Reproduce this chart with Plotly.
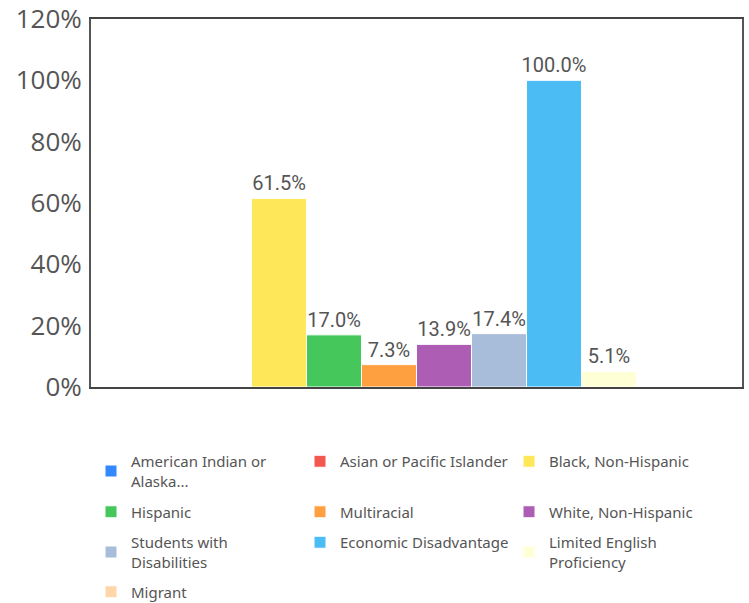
import plotly.graph_objects as go

groups = ["American Indian or<br>Alaska...", "Asian or Pacific Islander", "Black, Non-Hispanic",
          "Hispanic", "Multiracial", "White, Non-Hispanic",
          "Students with<br>Disabilities", "Economic Disadvantage", "Limited English<br>Proficiency",
          "Migrant"]
values = [0.0, 0.0, 61.5, 17.0, 7.3, 13.9, 17.4, 100.0, 5.1, 0.0]
colors = ["#3387FF", "#F2584D", "#FFE75A", "#46C75C", "#FFA040", "#AD5EB4",
          "#A7BDD9", "#4BBCF4", "#FFFFD6", "#FFD6AA"]
legend_rows = ["legend", "legend", "legend", "legend2", "legend2", "legend2",
               "legend3", "legend3", "legend3", "legend4"]
yticks = [0, 20, 40, 60, 80, 100, 120]
ytick_labels = [f"{t}%" for t in yticks]

fig = go.Figure()
for name, v, c, lg in zip(groups, values, colors, legend_rows):
    fig.add_trace(go.Bar(
        x=[""], y=[v], name=name, marker=dict(color=c, line=dict(color="white", width=1)),
        text=[f"{v:.1f}%" if v > 0 else ""], textposition="outside", constraintext="none",
        textfont=dict(family="Roboto", size=20, color="#555555"),
        cliponaxis=False, legend=lg, hoverinfo="skip",
    ))

H = 368.0
W = 651.0
def ly(py):
    return (387 - py) / H

leg_common = dict(orientation="h", x=0 / W, xanchor="left", yanchor="middle",
                  entrywidth=164, entrywidthmode="pixels",
                  font=dict(family="Noto Sans", size=15, color="#555555"),
                  bgcolor="rgba(0,0,0,0)", traceorder="normal")

fig.update_layout(
    width=749, height=603,
    margin=dict(l=91, r=7, t=19, b=216, autoexpand=False),
    paper_bgcolor="white", plot_bgcolor="white",
    barmode="group", bargap=0.155, bargroupgap=0,
    showlegend=True,
    legend=dict(y=ly(471), **leg_common),
    legend2=dict(y=ly(512), **leg_common),
    legend3=dict(y=ly(552), **leg_common),
    legend4=dict(y=ly(592), **leg_common),
    xaxis=dict(showticklabels=False, showgrid=False, showline=True, linecolor="#444444",
               linewidth=2, mirror=True, zeroline=False, ticks="", automargin=False),
    yaxis=dict(range=[0, 120], tickmode="array", tickvals=yticks, ticktext=ytick_labels,
               showgrid=False, automargin=False,
               showline=True, linecolor="#555555", linewidth=2, mirror=True, zeroline=False,
               tickfont=dict(family="Open Sans", size=26, color="#555555"), ticks="",
               ticklen=0, ticklabelstandoff=2),
)

fig.write_html("out.html", config={"displayModeBar": False},
               post_script="document.body.style.margin='0';document.body.style.padding='0';")
